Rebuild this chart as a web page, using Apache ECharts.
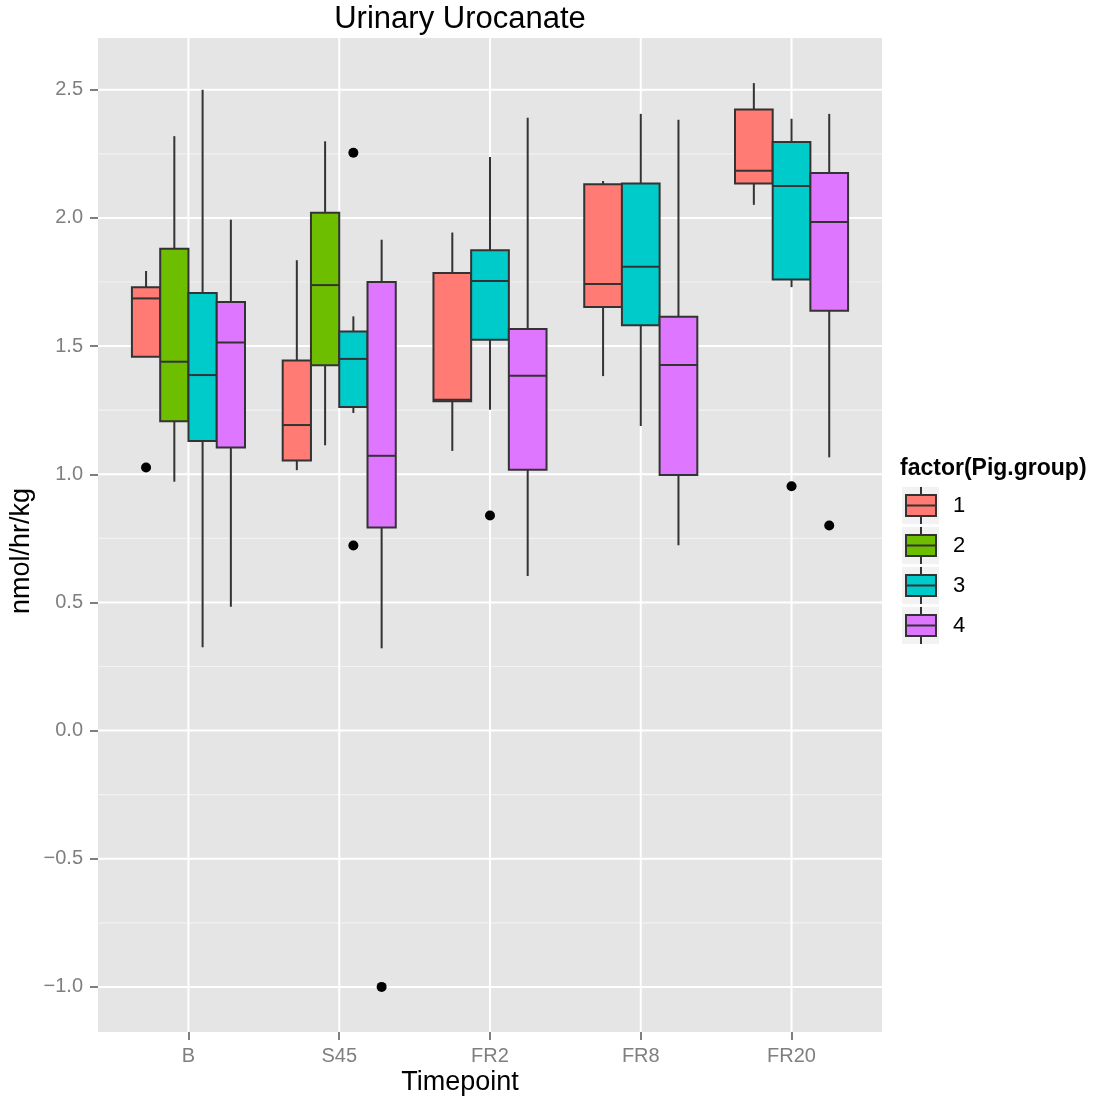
<!DOCTYPE html>
<html>
<head>
<meta charset="utf-8">
<title>Urinary Urocanate</title>
<script src="https://cdn.jsdelivr.net/npm/echarts@6/dist/echarts.min.js"></script>
<style>
  html, body { margin: 0; padding: 0; background: #ffffff; }
  #chart { width: 1096px; height: 1105px; }
</style>
</head>
<body>
<div id="chart"></div>
<script>
// Sampling timepoints along the x axis
const timepoints = ['B', 'S45', 'FR2', 'FR8', 'FR20'];
// Pig groups (fill factor)
const groups = ['1', '2', '3', '4'];

// Box summaries per timepoint: [lower whisker, Q1, median, Q3, upper whisker]; null = group not measured
const group1 = [
  [1.458, 1.458, 1.686, 1.730, 1.793],
  [1.016, 1.054, 1.192, 1.444, 1.835],
  [1.091, 1.285, 1.291, 1.785, 1.943],
  [1.383, 1.653, 1.742, 2.131, 2.144],
  [2.051, 2.134, 2.184, 2.423, 2.526]
];
const group2 = [
  [0.971, 1.207, 1.439, 1.880, 2.319],
  [1.113, 1.425, 1.738, 2.020, 2.299],
  null,
  null,
  null
];
const group3 = [
  [0.325, 1.130, 1.387, 1.707, 2.500],
  [1.239, 1.262, 1.450, 1.557, 1.616],
  [1.252, 1.525, 1.754, 1.874, 2.238],
  [1.188, 1.581, 1.810, 2.134, 2.406],
  [1.730, 1.760, 2.125, 2.296, 2.387]
];
const group4 = [
  [0.483, 1.104, 1.514, 1.672, 1.993],
  [0.321, 0.792, 1.072, 1.750, 1.915],
  [0.603, 1.018, 1.384, 1.567, 2.391],
  [0.723, 0.997, 1.426, 1.614, 2.383],
  [1.066, 1.638, 1.984, 2.175, 2.406]
];

// Outlying observations: [timepoint index, value]
const outliers1 = [[0, 1.026]];
const outliers2 = [];
const outliers3 = [[1, 2.254], [1, 0.722], [2, 0.839], [4, 0.953]];
const outliers4 = [[1, -1.0], [4, 0.800]];

// Axis ticks
const yTicks = [-1.0, -0.5, 0.0, 0.5, 1.0, 1.5, 2.0, 2.5];
const yMinorTicks = [-0.75, -0.25, 0.25, 0.75, 1.25, 1.75, 2.25];

const groupBoxes = [group1, group2, group3, group4];
const groupOutliers = [outliers1, outliers2, outliers3, outliers4];
const fills = ['#FF7B74', '#6EBE00', '#00CBCB', '#DF76FF'];
const STROKE = '#333333';
const FONT = '"Liberation Sans", Arial, Helvetica, sans-serif';
const DODGE_WIDTH = 0.75;

// Side-by-side slots: only groups present at a timepoint share its width
const slots = groupBoxes.map(() => []);
timepoints.forEach((tp, t) => {
  const present = groupBoxes.map((g, gi) => (g[t] ? gi : -1)).filter(gi => gi >= 0);
  const w = DODGE_WIDTH / present.length;
  present.forEach((gi, k) => {
    slots[gi][t] = { offset: -DODGE_WIDTH / 2 + (k + 0.5) * w, width: w };
  });
});

const xMin = 0.4, xMax = timepoints.length + 0.6;
const yMin = -1.176, yMax = 2.702;

const chart = echarts.init(document.getElementById('chart'), null, { renderer: 'canvas' });

// Panel grid lines drawn as a custom series so they sit exactly on the tick values
const gridLineData = []
  .concat(yMinorTicks.map(v => [0, v, 0]))
  .concat(yTicks.map(v => [0, v, 1]))
  .concat(timepoints.map((tp, i) => [1, i + 1, 1]));

const gridSeries = {
  type: 'custom',
  name: 'panel-grid',
  silent: true,
  z: 1,
  data: gridLineData,
  renderItem: (params, api) => {
    const cs = params.coordSys;
    const vertical = api.value(0) === 1;
    const v = api.value(1);
    const major = api.value(2) === 1;
    let shape;
    if (vertical) {
      const px = api.coord([v, yMin])[0];
      shape = { x1: px, y1: cs.y, x2: px, y2: cs.y + cs.height };
    } else {
      const py = api.coord([xMin, v])[1];
      shape = { x1: cs.x, y1: py, x2: cs.x + cs.width, y2: py };
    }
    return {
      type: 'line',
      shape: shape,
      style: { stroke: major ? '#FFFFFF' : '#F2F2F2', lineWidth: major ? 2 : 1.2 }
    };
  }
};

function boxSeries(gi) {
  const data = [];
  groupBoxes[gi].forEach((s, t) => {
    if (s) data.push([t + 1].concat(s).concat([t]));
  });
  return {
    type: 'custom',
    name: groups[gi],
    z: 3,
    data: data,
    encode: { x: 0, y: [1, 2, 3, 4, 5] },
    renderItem: (params, api) => {
      const t = api.value(6);
      const slot = slots[gi][t];
      const cx = api.value(0) + slot.offset;
      const half = api.size([slot.width, 0])[0] / 2;
      const pLo = api.coord([cx, api.value(1)]);
      const pQ1 = api.coord([cx, api.value(2)]);
      const pMed = api.coord([cx, api.value(3)]);
      const pQ3 = api.coord([cx, api.value(4)]);
      const pHi = api.coord([cx, api.value(5)]);
      const lineStyle = { stroke: STROKE, lineWidth: 2 };
      return {
        type: 'group',
        children: [
          { type: 'line', shape: { x1: pHi[0], y1: pHi[1], x2: pQ3[0], y2: pQ3[1] }, style: lineStyle },
          { type: 'line', shape: { x1: pQ1[0], y1: pQ1[1], x2: pLo[0], y2: pLo[1] }, style: lineStyle },
          {
            type: 'rect',
            shape: { x: pQ3[0] - half, y: pQ3[1], width: half * 2, height: pQ1[1] - pQ3[1] },
            style: { fill: fills[gi], stroke: STROKE, lineWidth: 2 }
          },
          { type: 'line', shape: { x1: pMed[0] - half, y1: pMed[1], x2: pMed[0] + half, y2: pMed[1] }, style: lineStyle }
        ]
      };
    }
  };
}

function outlierSeries(gi) {
  return {
    type: 'scatter',
    name: groups[gi] + ' outliers',
    z: 4,
    symbol: 'circle',
    symbolSize: 10,
    itemStyle: { color: '#000000', opacity: 1 },
    data: groupOutliers[gi].map(([t, v]) => [t + 1 + slots[gi][t].offset, v])
  };
}

// Legend keys drawn as small boxplot glyphs
const legendChildren = [{
  type: 'text', x: 900, y: 469,
  style: { text: 'factor(Pig.group)', font: 'bold 23px ' + FONT, fill: '#000', align: 'left', verticalAlign: 'middle' }
}];
groups.forEach((g, i) => {
  const top = 487 + i * 40;
  legendChildren.push(
    { type: 'rect', shape: { x: 902, y: top, width: 37, height: 37 }, style: { fill: '#F2F2F2' } },
    { type: 'line', shape: { x1: 921, y1: top, x2: 921, y2: top + 37 }, style: { stroke: STROKE, lineWidth: 2 } },
    { type: 'rect', shape: { x: 906, y: top + 8, width: 30, height: 21 }, style: { fill: fills[i], stroke: STROKE, lineWidth: 2 } },
    { type: 'line', shape: { x1: 906, y1: top + 18.5, x2: 936, y2: top + 18.5 }, style: { stroke: STROKE, lineWidth: 2 } },
    { type: 'text', x: 953, y: top + 19, style: { text: g, font: '22px ' + FONT, fill: '#000', align: 'left', verticalAlign: 'middle' } }
  );
});

const option = {
  animation: false,
  backgroundColor: '#FFFFFF',
  textStyle: { fontFamily: FONT },
  grid: {
    left: 98, right: 214, top: 38, bottom: 73,
    show: true, backgroundColor: '#E5E5E5', borderWidth: 0
  },
  xAxis: {
    type: 'value',
    min: xMin, max: xMax,
    axisLine: { show: false, onZero: false },
    splitLine: { show: false },
    axisTick: { show: true, customValues: timepoints.map((tp, i) => i + 1), length: 8, lineStyle: { color: '#7F7F7F', width: 2 } },
    axisLabel: {
      customValues: timepoints.map((tp, i) => i + 1),
      formatter: v => timepoints[Math.round(v) - 1],
      color: '#7F7F7F', fontSize: 20, margin: 14, fontFamily: FONT
    }
  },
  yAxis: {
    type: 'value',
    min: yMin, max: yMax,
    axisLine: { show: false, onZero: false },
    splitLine: { show: false },
    axisTick: { show: true, customValues: yTicks, length: 8, lineStyle: { color: '#7F7F7F', width: 2 } },
    axisLabel: {
      customValues: yTicks,
      formatter: v => (v < 0 ? '\u2212' : '') + Math.abs(v).toFixed(1),
      color: '#7F7F7F', fontSize: 20, margin: 15, fontFamily: FONT
    }
  },
  graphic: [
    { type: 'text', x: 460, y: 19, style: { text: 'Urinary Urocanate', font: '31px ' + FONT, fill: '#000', align: 'center', verticalAlign: 'middle' } },
    { type: 'text', x: 460, y: 1083, style: { text: 'Timepoint', font: '27px ' + FONT, fill: '#000', align: 'center', verticalAlign: 'middle' } },
    { type: 'text', x: 22, y: 551, rotation: Math.PI / 2, style: { text: 'nmol/hr/kg', font: '27px ' + FONT, fill: '#000', align: 'center', verticalAlign: 'middle' } },
    { type: 'group', children: legendChildren }
  ],
  series: [gridSeries]
    .concat(groups.map((g, gi) => boxSeries(gi)))
    .concat(groups.map((g, gi) => outlierSeries(gi)).filter(s => s.data.length))
};

chart.setOption(option);
</script>
</body>
</html>
